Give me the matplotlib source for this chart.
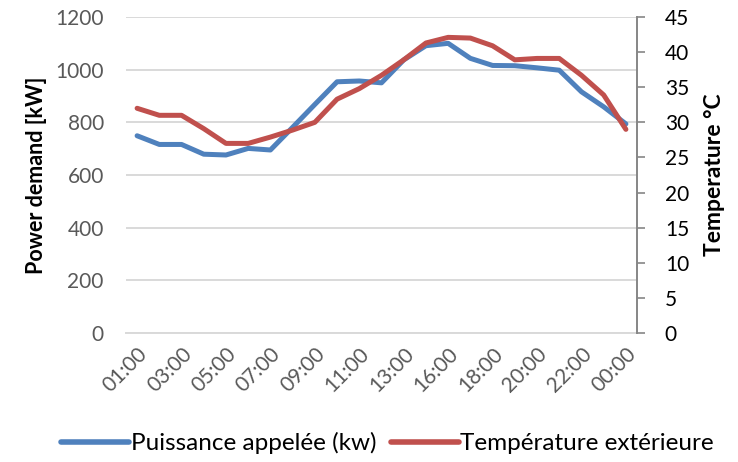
import matplotlib
matplotlib.use("Agg")
import matplotlib.pyplot as plt
from matplotlib.lines import Line2D

plt.rcParams['font.family'] = ['Lato', 'DejaVu Sans']

hours = ["01:00", "02:00", "03:00", "04:00", "05:00", "06:00", "07:00", "08:00",
         "09:00", "10:00", "11:00", "12:00", "13:00", "14:00", "16:00", "17:00",
         "18:00", "19:00", "20:00", "21:00", "22:00", "23:00", "00:00"]
power_kw = [749, 716, 716, 679, 676, 701, 695, 781, 868, 954, 957, 950, 1037,
            1091, 1100, 1043, 1016, 1015, 1007, 998, 916, 859, 794]
temp_c = [32.0, 31.0, 31.0, 29.1, 27.0, 27.0, 27.9, 28.9, 30.0, 33.3, 34.8,
          36.7, 38.9, 41.3, 42.1, 42.0, 40.9, 38.9, 39.1, 39.1, 36.7, 33.9, 29.0]
power_ticks = [0, 200, 400, 600, 800, 1000, 1200]
temp_ticks = [0, 5, 10, 15, 20, 25, 30, 35, 40, 45]

blue = "#4F81BD"
red = "#C0504D"
grid_c = "#D9D9D9"
axis_c = "#868686"

fig = plt.figure(figsize=(7.38, 4.62), dpi=100)
ax = fig.add_axes([126 / 738, 1 - 333 / 462, (637 - 126) / 738, (333 - 17) / 462])
ax2 = ax.twinx()

x = list(range(len(hours)))
ax.plot(x, power_kw, color=blue, lw=3.6, solid_joinstyle='round', solid_capstyle='round', zorder=3)
ax2.plot(x, temp_c, color=red, lw=3.6, solid_joinstyle='round', solid_capstyle='round', zorder=3)

ax.set_xlim(-0.5, len(hours) - 0.5)
ax.set_ylim(0, 1200)
ax2.set_ylim(0, 45)
ax.set_yticks(power_ticks)
ax2.set_yticks(temp_ticks)

ax.set_xticks(x[::2])
ax.set_xticklabels(hours[::2], rotation=45, ha='right', va='top',
                   rotation_mode='anchor', fontsize=15, color='#595959')
ax.tick_params(axis='x', length=0, pad=8)
ax.tick_params(axis='y', length=0, pad=16, labelsize=15, labelcolor='#595959')
ax2.tick_params(axis='y', length=6, width=1.2, color=axis_c, pad=14,
                labelsize=15, labelcolor='black')

ax.grid(axis='y', color=grid_c, lw=1.4)
ax.set_axisbelow(True)
for a in (ax, ax2):
    for side in ('top', 'left', 'right', 'bottom'):
        a.spines[side].set_visible(False)
ax.spines['bottom'].set_visible(True)
ax.spines['bottom'].set_color(grid_c)
ax.spines['bottom'].set_linewidth(1.4)
ax2.spines['right'].set_visible(True)
ax2.spines['right'].set_color(axis_c)
ax2.spines['right'].set_linewidth(1.4)

ax.set_ylabel("Power demand [kW]", fontsize=15.5, fontweight='bold', labelpad=6)
ax2.set_ylabel("Temperature °C", fontsize=16.5, fontweight='bold', labelpad=11)

handles = [Line2D([], [], color=blue, lw=4, solid_capstyle='round'),
           Line2D([], [], color=red, lw=4, solid_capstyle='round')]
fig.legend(handles, ["Puissance appelée (kw)", "Température extérieure"],
           loc='center', bbox_to_anchor=(0.525, 1 - 443 / 462), ncol=2, frameon=False,
           fontsize=17.5, handlelength=2.8, handletextpad=0.05, columnspacing=0.6)

fig.savefig("out.png", dpi=100)
